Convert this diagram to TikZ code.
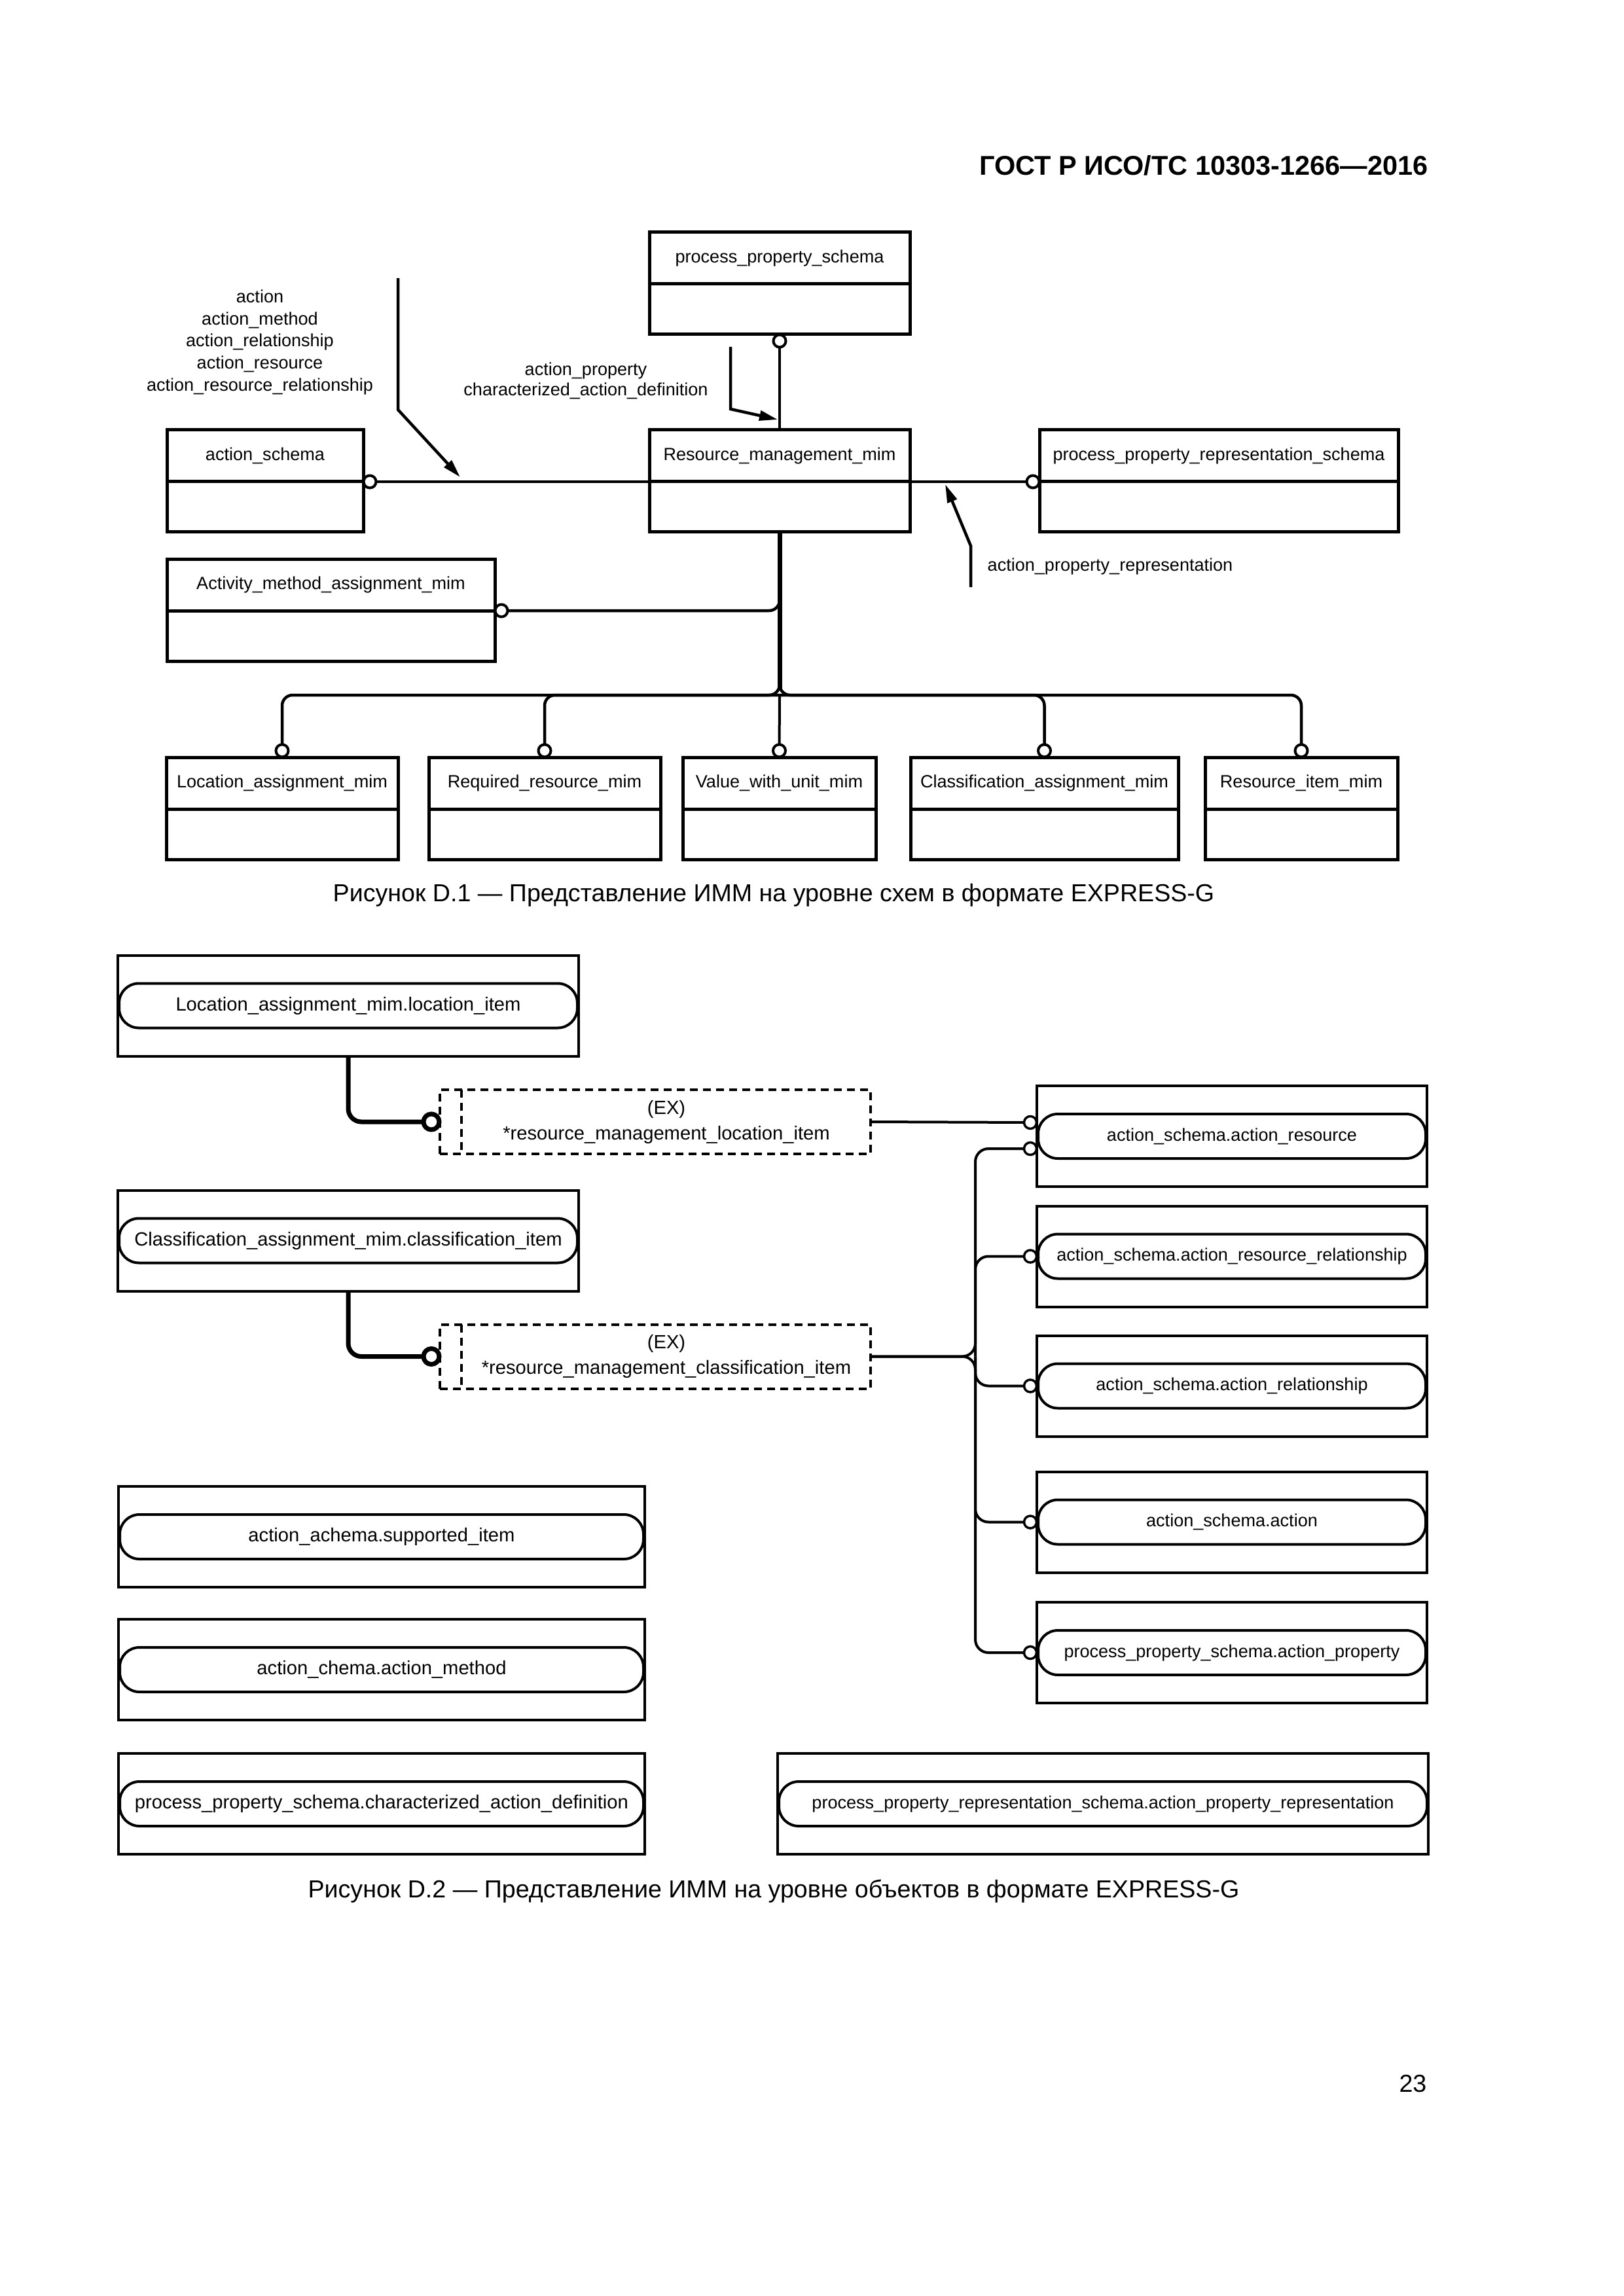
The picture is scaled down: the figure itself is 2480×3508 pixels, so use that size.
\documentclass[tikz,border=0pt]{standalone}
\usepackage{fontspec}
\setmainfont{Liberation Sans}
\usetikzlibrary{arrows.meta,calc}
\newcommand{\lblfont}{\fontsize{7.7}{9.5}\selectfont}
\newcommand{\lblbig}{\fontsize{8.3}{10}\selectfont}
\newcommand{\capfont}{\fontsize{10.7}{12.5}\selectfont}
\tikzset{
	enttop/.style={draw, line width=0.5mm, inner sep=0pt, outer sep=0pt, minimum height=7.9mm, minimum width=#1, font=\lblfont},
	entbot/.style={draw, line width=0.5mm, inner sep=0pt, outer sep=0pt, minimum height=7.7mm, minimum width=#1, anchor=north},
	ring/.style={circle, draw, fill=white, line width=0.4mm, inner sep=0pt, outer sep=0pt, minimum size=1.9mm},
	ring2/.style={circle, draw, fill=white, line width=0.35mm, inner sep=0pt, outer sep=0pt, minimum size=1.9mm},
	ringthick/.style={circle, draw, fill=white, line width=0.7mm, inner sep=0pt, outer sep=0pt, minimum size=2.4mm},
	conn/.style={line width=0.45mm, rounded corners=1.6mm},
	conn2/.style={line width=0.4mm, rounded corners=2mm},
	connthick/.style={line width=0.7mm},
	arr/.style={line width=0.45mm, -{Triangle[length=2.8mm,width=1.5mm]}},
	lbl/.style={font=\lblfont, inner sep=0pt, align=center},
	attrbox/.style={draw, line width=0.4mm, inner sep=0pt, outer sep=0pt, minimum height=15.4mm, minimum width=#1},
	pill/.style={draw, line width=0.4mm, rounded corners=3mm, inner sep=0pt, outer sep=0pt, minimum height=6.8mm, minimum width=#1, font=\lblfont},
	selbox/.style={draw, dash pattern=on 1.2mm off 0.8mm, line width=0.4mm, inner sep=0pt, outer sep=0pt, minimum height=9.8mm, minimum width=65.8mm},
	capt/.style={font=\capfont, inner sep=0pt},
}
\begin{document}
\begin{tikzpicture}[x=0.1mm, y=-0.1mm]
	\useasboundingbox (0,0) rectangle (2480,3508);
	
	%Kopf
	\node[font=\fontsize{11.8}{14}\selectfont\bfseries, inner sep=0pt, anchor=east] (hdr) at (2182,253) {ГОСТ Р ИСО/ТС 10303-1266—2016};
	
	%Schemata D.1
	\node[enttop=39.8mm] (pps) at (1191,394.5) {process\_property\_schema};
	\node[entbot=39.8mm] (pps-b) at (pps.south) {};
	\node[enttop=30mm] (as) at (405,696.5) {action\_schema};
	\node[entbot=30mm] (as-b) at (as.south) {};
	\node[enttop=39.8mm] (rm) at (1191,696.5) {Resource\_management\_mim};
	\node[entbot=39.8mm] (rm-b) at (rm.south) {};
	\node[enttop=54.8mm] (ppr) at (1862,696.5) {process\_property\_representation\_schema};
	\node[entbot=54.8mm] (ppr-b) at (ppr.south) {};
	\node[enttop=50.1mm] (am) at (505.5,893.5) {Activity\_method\_assignment\_mim};
	\node[entbot=50.1mm] (am-b) at (am.south) {};
	
	\foreach \n/\x/\w/\t in {loc/431/35.4/Location\_assignment\_mim, req/832/35.4/Required\_resource\_mim, val/1190.5/29.5/Value\_with\_unit\_mim, cls/1595.5/40.9/Classification\_assignment\_mim, ri/1988/29.4/Resource\_item\_mim} {
		\node[enttop=\w mm] (\n) at (\x,1196.5) {\t};
		\node[entbot=\w mm] (\n-b) at (\n.south) {};
		\node[ring] (c-\n) at ($(\n.north)+(0,-10)$) {};
	}
	
	\node[ring] (c-as) at ($(as.south east)+(10,0)$) {};
	\node[ring] (c-ppr) at ($(ppr.south west)+(-10,0)$) {};
	\node[ring] (c-pps) at ($(pps-b.south)+(0,10)$) {};
	\node[ring] (c-am) at ($(am.south east)+(10,0)$) {};
	
	%Verbindungen D.1
	\draw[conn] (c-as) -- (c-ppr);
	\draw[conn] (c-pps) -- (rm.north);
	\coordinate (j1) at (1191,1062);
	\draw[conn] (rm-b.south) |- (c-am);
	\draw[conn] (rm-b.south) -- (j1) -| (c-loc);
	\draw[conn] (rm-b.south) -- (j1) -| (c-ri);
	\draw[conn] (j1) -| (c-req);
	\draw[conn] (j1) -| (c-cls);
	\draw[conn, line width=0.4mm] (j1) -- (c-val);
	\draw[connthick] (rm-b.south) -- ($(j1)+(0,-8)$);
	
	%Beschriftungen D.1
	\node[lbl, font=\fontsize{7.7}{9.6}\selectfont] (rels-as) at (397,523) {action\\action\_method\\action\_relationship\\action\_resource\\action\_resource\_relationship};
	\coordinate (a1s) at (608,425);
	\coordinate (a1b) at (608,626);
	\coordinate (a1e) at (703,729);
	\draw[arr] (a1s) -- (a1b) -- (a1e);
	
	\node[lbl, font=\fontsize{7.7}{9}\selectfont] (rels-pps) at (895,582) {action\_property\\characterized\_action\_definition};
	\coordinate (a2s) at (1116,530);
	\coordinate (a2b) at (1116,625);
	\coordinate (a2e) at (1188,641);
	\draw[arr] (a2s) -- (a2b) -- (a2e);
	
	\node[lbl, anchor=west] (rels-ppr) at (1508,866) {action\_property\_representation};
	\coordinate (a3s) at (1483,897);
	\coordinate (a3b) at (1483,834);
	\coordinate (a3e) at (1444,740);
	\draw[arr] (a3s) -- (a3b) -- (a3e);
	
	\node[capt] (cap1) at (1182,1368) {Рисунок D.1 — Представление ИММ на уровне схем в формате EXPRESS-G};
	
	%Objekte D.2
	\node[attrbox=70.4mm] (loc2) at (532,1536.5) {};
	\node[pill=70mm, font=\lblbig] (loc2-p) at (loc2.center) {Location\_assignment\_mim.location\_item};
	\node[attrbox=70.4mm] (cls2) at (532,1895.5) {};
	\node[pill=70mm, font=\lblbig] (cls2-p) at (cls2.center) {Classification\_assignment\_mim.classification\_item};
	
	\node[selbox] (rmli) at (1001,1714) {};
	\draw[line width=0.4mm, dash pattern=on 1.2mm off 0.8mm] ([xshift=3.3mm]rmli.north west) -- ([xshift=3.3mm]rmli.south west);
	\node[lbl, font=\fontsize{8.3}{11.1}\selectfont] (rmli-t) at (1018,1714) {(EX)\\*resource\_management\_location\_item};
	\node[selbox] (rmci) at (1001,2072.5) {};
	\draw[line width=0.4mm, dash pattern=on 1.2mm off 0.8mm] ([xshift=3.3mm]rmci.north west) -- ([xshift=3.3mm]rmci.south west);
	\node[lbl, font=\fontsize{8.3}{11.1}\selectfont] (rmci-t) at (1018,2072.5) {(EX)\\*resource\_management\_classification\_item};
	
	\node[ringthick] (r-li) at ($(rmli.west)+(-13,0)$) {};
	\node[ringthick] (r-ci) at ($(rmci.west)+(-13,0)$) {};
	\draw[connthick, rounded corners=2mm] (loc2.south) |- (r-li);
	\draw[connthick, rounded corners=2mm] (cls2.south) |- (r-ci);
	
	\foreach \n/\y/\t in {ar/1736/action\_schema.action\_resource, arr/1919.5/action\_schema.action\_resource\_relationship, arel/2117.5/action\_schema.action\_relationship, act/2325.5/action\_schema.action, ap/2525/process\_property\_schema.action\_property} {
		\node[attrbox=59.6mm] (\n) at (1882,\y) {};
		\node[pill=59.2mm] (\n-p) at (\n.center) {\t};
	}
	\foreach \n in {arr,arel,act,ap} {
		\node[ring2] (c-\n) at ($(\n.west)+(-10,0)$) {};
	}
	\node[ring2] (c-ar1) at ($(ar.west)+(-10,-21)$) {};
	\node[ring2] (c-ar2) at ($(ar.west)+(-10,19)$) {};
	
	\foreach \n/\x/\y/\w/\t in {si/583/2348/80.4/action\_achema.supported\_item, amth/583/2551/80.4/action\_chema.action\_method, cad/583/2756/80.4/process\_property\_schema.characterized\_action\_definition} {
		\node[attrbox=\w mm] (\n) at (\x,\y) {};
		\node[pill=\w mm-0.4mm, font=\lblbig] (\n-p) at (\n.center) {\t};
	}
	\node[attrbox=99.4mm] (ppr2) at (1685,2756) {};
	\node[pill=99mm] (ppr2-p) at (ppr2.center) {process\_property\_representation\_schema.action\_property\_representation};
	
	%Verbindungen D.2
	\draw[conn2] (rmli.east) -- (c-ar1);
	\coordinate (j2) at ($(rmci.east)+(160,0)$);
	\draw[conn2] (rmci.east) -- (j2) |- (c-ar2);
	\draw[conn2] (rmci.east) -- (j2) |- (c-ap);
	\draw[conn2] (j2) |- (c-arr);
	\draw[conn2] (j2) |- (c-arel);
	\draw[conn2] (j2) |- (c-act);
	
	\node[capt] (cap2) at (1182,2890) {Рисунок D.2 — Представление ИММ на уровне объектов в формате EXPRESS-G};
	
	%Seitenzahl
	\node[capt, anchor=east] (pg) at (2180,3184) {23};
\end{tikzpicture}
\end{document}
